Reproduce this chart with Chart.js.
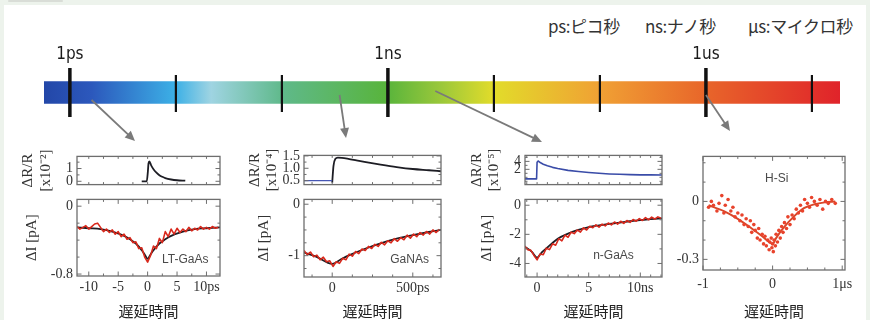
<!DOCTYPE html>
<html>
<head>
<meta charset="utf-8">
<script src="https://cdn.jsdelivr.net/npm/chart.js@4.4.0/dist/chart.umd.min.js"></script>
<style>
  body { margin: 0; width: 870px; height: 320px; background: #edf3ec; overflow: hidden; position: relative; }
  #sheet { position: absolute; left: 4px; top: 5px; width: 862px; height: 315px; background: #fff; }
  #tab { position: absolute; left: 8px; top: 0; width: 55px; height: 2px; background: #d9ddd7; border-radius: 2px; }
  .unit { position: absolute; top: 15px; font: 17px/22px 'Noto Sans CJK JP', sans-serif; color: #333; white-space: pre; letter-spacing: -0.4px; }
  canvas { position: absolute; }
</style>
</head>
<body>
<div id="sheet"></div>
<div id="tab"></div>
<div class="unit" style="left:548px">ps:ピコ秒</div>
<div class="unit" style="left:645px">ns:ナノ秒</div>
<div class="unit" style="left:748px">μs:マイクロ秒</div>
<canvas id="timeline"></canvas>
<canvas id="ltTop"></canvas><canvas id="ltBot"></canvas>
<canvas id="grTop"></canvas><canvas id="grBot"></canvas>
<canvas id="ngTop"></canvas><canvas id="ngBot"></canvas>
<canvas id="hs"></canvas>
<script>
// ---- timeline (seconds, log axis) ----
const timeTicks = [1e-12, 1e-11, 1e-10, 1e-9, 1e-8, 1e-7, 1e-6, 1e-5];
const timeTickLabels = ['1ps', '', '', '1ns', '', '', '1us', ''];
const timeRange = [5.7e-13, 1.84e-5];
// where each arrow leaves the time bar
const arrowFrom = [1.6e-12, 3.5e-10, 2.8e-9, 1.0e-6];

// ---- LT-GaAs (ps) ----
const ltDrX = [-1, -0.15, 0.05, 0.15, 0.3, 0.6, 1, 1.5, 2, 2.5, 3, 4, 5, 6.4];
const ltDrY = [0, 0, 0.8, 1.4, 1.55, 1.25, 0.95, 0.68, 0.48, 0.35, 0.25, 0.14, 0.08, 0.05];
const ltDataX = [-12, -11.5, -11, -10.5, -10, -9.5, -9, -8.5, -8, -7.5, -7, -6.5, -6, -5.5, -5, -4.5, -4, -3.5, -3, -2.5, -2, -1.5, -1, -0.5, 0,
  0.5, 1, 1.5, 2, 2.5, 3, 3.5, 4, 4.5, 5, 5.5, 6, 6.5, 7, 7.5, 8, 8.5, 9, 9.5, 10, 10.5, 11, 11.5, 12];
const ltDataY = [-0.24, -0.27, -0.25, -0.23, -0.27, -0.24, -0.21, -0.2, -0.25, -0.3, -0.27, -0.31, -0.28, -0.33, -0.3, -0.36, -0.33, -0.39, -0.37, -0.43, -0.42, -0.5, -0.49, -0.6, -0.66,
  -0.58, -0.47, -0.5, -0.38, -0.43, -0.3, -0.36, -0.27, -0.33, -0.26, -0.31, -0.27, -0.3, -0.25, -0.29, -0.26, -0.28, -0.24, -0.27, -0.25, -0.27, -0.24, -0.26, -0.25];
const ltFitX = [-12, -10, -8, -6, -4, -3, -2, -1, -0.5, 0, 0.5, 1, 2, 3, 4, 6, 8, 10, 12.3];
const ltFitY = [-0.25, -0.26, -0.27, -0.3, -0.35, -0.39, -0.44, -0.52, -0.57, -0.62, -0.57, -0.52, -0.44, -0.39, -0.35, -0.3, -0.27, -0.26, -0.25];

// ---- GaNAs (ps) ----
const grFlatX = [-175, 0];
const grFlatY = [0.5, 0.5];
const grDrX = [0, 8, 20, 35, 60, 100, 150, 200, 300, 400, 500, 600, 675];
const grDrY = [0.42, 1.1, 1.38, 1.43, 1.42, 1.38, 1.32, 1.26, 1.15, 1.05, 0.97, 0.92, 0.88];
const grDataX = [-175, -155, -135, -115, -95, -75, -55, -35, -15, 5, 25, 45, 65, 85, 105, 125, 145, 165, 185, 205, 225, 245,
  265, 285, 305, 325, 345, 365, 385, 405, 425, 445, 465, 485, 505, 525, 545, 565, 585, 605, 625, 645, 665];
const grDataY = [-0.9, -0.98, -0.93, -1.02, -0.99, -1.08, -1.03, -1.12, -1.1, -1.21, -1.12, -1.15, -1.05, -1.08, -0.97, -1.01, -0.92, -0.96, -0.87, -0.9, -0.82, -0.86,
  -0.78, -0.82, -0.74, -0.79, -0.71, -0.75, -0.67, -0.72, -0.65, -0.69, -0.6, -0.66, -0.58, -0.63, -0.55, -0.6, -0.53, -0.58, -0.5, -0.55, -0.49];
const grFitX = [-175, -100, 0, 50, 100, 200, 300, 400, 500, 600, 675];
const grFitY = [-0.94, -1.02, -1.16, -1.08, -1.0, -0.87, -0.76, -0.67, -0.6, -0.54, -0.5];

// ---- n-GaAs (ns) ----
const ngDrX = [-1.17, -0.05, 0, 0.1, 0.3, 0.6, 1, 1.5, 2, 3, 4, 5, 6, 7, 8, 9, 10, 11, 12.1];
const ngDrY = [-0.4, -0.4, 3.8, 4.1, 3.7, 3.3, 2.9, 2.5, 2.2, 1.75, 1.45, 1.2, 1.0, 0.85, 0.75, 0.68, 0.62, 0.6, 0.58];
const ngDataX = [-1.2, -0.9, -0.6, -0.3, 0, 0.3, 0.6, 0.9, 1.2, 1.5, 1.8, 2.1, 2.4, 2.7, 3.0, 3.3, 3.6, 3.9, 4.2, 4.5, 4.8, 5.1, 5.4,
  5.7, 6.0, 6.3, 6.6, 6.9, 7.2, 7.5, 7.8, 8.1, 8.4, 8.7, 9.0, 9.3, 9.6, 9.9, 10.2, 10.5, 10.8, 11.1, 11.4, 11.7, 12.0];
const ngDataY = [-2.8, -3.05, -3.1, -3.45, -3.75, -3.35, -3.4, -2.95, -3.05, -2.65, -2.75, -2.3, -2.45, -2.05, -2.2, -1.85, -1.95, -1.7, -1.85, -1.55, -1.7, -1.45, -1.55,
  -1.35, -1.5, -1.3, -1.42, -1.22, -1.35, -1.15, -1.3, -1.1, -1.25, -1.05, -1.18, -0.98, -1.1, -0.92, -1.05, -0.85, -1.0, -0.82, -0.95, -0.8, -0.9];
const ngFitX = [-1.2, -0.5, 0, 0.5, 1, 2, 3, 4, 5, 6, 7, 8, 9, 10, 11, 12.1];
const ngFitY = [-2.85, -3.2, -3.6, -3.2, -2.9, -2.3, -1.95, -1.7, -1.5, -1.38, -1.28, -1.2, -1.1, -1.02, -0.96, -0.9];

// ---- H-Si (us) ----
const hsX = [-0.92, -0.88, -0.85, -0.8, -0.77, -0.73, -0.7, -0.68, -0.64, -0.6, -0.57, -0.54, -0.5, -0.47, -0.44, -0.41, -0.38, -0.35, -0.32, -0.3,
  -0.27, -0.25, -0.22, -0.2, -0.18, -0.15, -0.13, -0.11, -0.09, -0.07, -0.05, -0.04, -0.02, -0.01, 0, 0.01, 0.02, 0.04, 0.05, 0.07,
  0.09, 0.11, 0.13, 0.15, 0.17, 0.2, 0.22, 0.25, 0.28, 0.31, 0.34, 0.37, 0.4, 0.43, 0.46, 0.5, 0.53, 0.56, 0.6, 0.64, 0.68, 0.72, 0.76, 0.8, 0.85, 0.9];
const hsY = [-0.03, 0.0, -0.02, -0.05, -0.01, 0.03, -0.06, -0.02, 0.01, -0.05, -0.03, -0.08, -0.06, -0.1, -0.07, -0.12, -0.09, -0.13, -0.1, -0.16,
  -0.12, -0.15, -0.19, -0.14, -0.2, -0.17, -0.22, -0.18, -0.23, -0.2, -0.25, -0.21, -0.19, -0.24, -0.22, -0.26, -0.2, -0.23, -0.17, -0.21,
  -0.15, -0.19, -0.13, -0.16, -0.11, -0.14, -0.08, -0.12, -0.07, -0.09, -0.04, -0.06, -0.02, -0.05, 0.01, -0.01, -0.03, 0.02, 0.0, -0.02, 0.01, -0.04, 0.0, -0.01, 0.01, -0.01];
const hsFitX = [-0.92, -0.7, -0.5, -0.3, -0.15, -0.05, 0, 0.05, 0.15, 0.3, 0.45, 0.6, 0.75, 0.9];
const hsFitY = [-0.02, -0.05, -0.09, -0.14, -0.18, -0.21, -0.22, -0.19, -0.14, -0.08, -0.035, -0.015, -0.005, 0.0];

const serif = "'Liberation Serif', 'Times New Roman', serif";
const pts = (xs, ys) => xs.map((x, i) => ({x: x, y: ys[i]}));

// box outline + inward ticks on all four sides, plus the sample name
const frame = {
  id: 'frame',
  afterDatasetsDraw(chart, args, o) {
    const {ctx, chartArea: a, scales: {x, y}} = chart;
    ctx.save();
    ctx.strokeStyle = '#6e6e6e';
    ctx.lineWidth = 1;
    ctx.beginPath();
    const tick = (scale, step, horiz) => {
      const k0 = Math.ceil((scale.min - 1e-9) / step);
      for (let k = k0; k * step <= scale.max + 1e-9; k++) {
        const v = k * step;
        const major = scale.ticks.some(t => Math.abs(t.value - v) < step / 10);
        const len = major ? 4.5 : 2.5;
        const p = scale.getPixelForValue(v);
        if (horiz) {
          ctx.moveTo(p, a.top); ctx.lineTo(p, a.top + len);
          ctx.moveTo(p, a.bottom); ctx.lineTo(p, a.bottom - len);
        } else {
          ctx.moveTo(a.left, p); ctx.lineTo(a.left + len, p);
          ctx.moveTo(a.right, p); ctx.lineTo(a.right - len, p);
        }
      }
    };
    tick(x, o.xStep, true);
    tick(y, o.yStep, false);
    ctx.stroke();
    ctx.lineWidth = 1.3;
    ctx.strokeRect(a.left, a.top, a.right - a.left, a.bottom - a.top);
    if (o.label) {
      ctx.font = "12px 'Liberation Sans', Arial, sans-serif";
      ctx.fillStyle = '#4a4a4a';
      ctx.textAlign = 'center';
      ctx.textBaseline = 'middle';
      ctx.fillText(o.label[0], x.getPixelForValue(o.label[1]), y.getPixelForValue(o.label[2]));
    }
    ctx.restore();
  }
};

function plot(id, box, o) {
  const [l, t, r, b] = box;
  const pt = 10, pr = 22;
  const c = document.getElementById(id);
  const W = r - l + o.yw + pr, H = b - t + pt + o.xh;
  c.style.left = (l - o.yw) + 'px';
  c.style.top = (t - pt) + 'px';
  c.style.width = W + 'px';
  c.style.height = H + 'px';
  c.width = W; c.height = H;
  return new Chart(c, {
    type: 'line',
    data: {datasets: o.sets},
    options: {
      responsive: false,
      animation: false,
      layout: {padding: {top: pt, right: pr, left: 0, bottom: 0}},
      elements: {point: {radius: 0}, line: {borderJoinStyle: 'round'}},
      plugins: {legend: {display: false}, tooltip: {enabled: false}, frame: o.frame},
      scales: {
        x: {
          type: 'linear', min: o.xr[0], max: o.xr[1],
          afterBuildTicks: s => { s.ticks = o.xt.map(v => ({value: v})); },
          afterFit: s => { s.height = o.xh; },
          grid: {display: false, drawTicks: false},
          border: {display: false},
          ticks: {display: o.xh > 0, autoSkip: false, maxRotation: 0, padding: o.xpad || 3,
            color: '#333', font: {family: serif, size: 14}, callback: (v, i) => o.xl[i]},
          title: {display: o.xh > 0, text: '遅延時間', color: '#222',
            font: {family: "'Noto Sans CJK JP', sans-serif", size: 15, lineHeight: 1.2}, padding: {top: 0, bottom: 0}}
        },
        y: {
          type: 'linear', min: o.yr[0], max: o.yr[1],
          afterBuildTicks: s => { s.ticks = o.yt.map(v => ({value: v})); },
          afterFit: s => { s.width = o.yw; },
          grid: {display: false, drawTicks: false},
          border: {display: false},
          ticks: {autoSkip: false, padding: 4, color: '#333', font: {family: serif, size: 14},
            callback: (v, i) => o.yl[i]},
          title: {display: !!o.yTitle, text: o.yTitle, color: '#333',
            font: {family: serif, size: 15, lineHeight: o.tlh || 1.2}, padding: {top: o.tpad || 0, bottom: 0}}
        }
      }
    },
    plugins: [frame]
  });
}

const black = (data) => ({data, borderColor: '#1d1d24', borderWidth: 1.8, cubicInterpolationMode: 'monotone'});
const red = (data) => ({data, borderColor: '#d8281c', borderWidth: 1.6, tension: 0});

// LT-GaAs
plot('ltTop', [77, 154, 220, 197], {
  yw: 59, xh: 0, xr: [-12, 12.3], xt: [-10, -5, 0, 5, 10], xl: [],
  yr: [-0.26, 1.95], yt: [0, 1], yl: ['0', '1'], yTitle: ['ΔR/R', '[x10⁻²]'], tpad: 1,
  sets: [black(pts(ltDrX, ltDrY))],
  frame: {xStep: 2.5, yStep: 0.5}
});
plot('ltBot', [77, 197, 220, 276], {
  yw: 59, xh: 44, xr: [-12, 12.3], xt: [-10, -5, 0, 5, 10], xl: ['-10', '-5', '0', '5', '10ps'],
  yr: [-0.823, 0.08], yt: [0, -0.8], yl: ['0', '-0.8'], yTitle: 'ΔI [pA]', tpad: 5,
  sets: [red(pts(ltDataX, ltDataY)), black(pts(ltFitX, ltFitY))],
  frame: {xStep: 2.5, yStep: 0.2, label: ['LT-GaAs', 6.4, -0.63]}
});

// GaNAs
plot('grTop', [304, 153, 441, 197], {
  yw: 57, xh: 0, xr: [-175, 675], xt: [0, 500], xl: [],
  yr: [0.34, 1.52], yt: [0.5, 1.0, 1.5], yl: ['0.5', '1.0', '1.5'], yTitle: ['ΔR/R', '[x10⁻⁴]'], tpad: 0, tlh: 1.1,
  sets: [{data: pts(grFlatX, grFlatY), borderColor: '#4656b4', borderWidth: 1.3},
         black(pts(grDrX, grDrY))],
  frame: {xStep: 125, yStep: 0.25}
});
plot('grBot', [304, 197, 441, 277], {
  yw: 57, xh: 43, xr: [-175, 675], xt: [0, 500], xl: ['0', '500ps'],
  yr: [-1.415, 0.094], yt: [0, -1], yl: ['0', '-1'], yTitle: 'ΔI [pA]', tpad: 8,
  sets: [red(pts(grDataX, grDataY)), black(pts(grFitX, grFitY))],
  frame: {xStep: 125, yStep: 0.25, label: ['GaNAs', 480, -1.08]}
});

// n-GaAs
plot('ngTop', [525, 153, 662, 197], {
  yw: 56, xh: 0, xr: [-1.17, 12.1], xt: [0, 5, 10], xl: [],
  yr: [-1.83, 5.5], yt: [2, 4], yl: ['2', '4'], yTitle: ['ΔR/R', '[x10⁻⁵]'], tpad: 0, tlh: 1.1,
  sets: [{data: pts(ngDrX, ngDrY), borderColor: '#3a4ca8', borderWidth: 1.6}],
  frame: {xStep: 1, yStep: 1}
});
plot('ngBot', [525, 197, 662, 277], {
  yw: 56, xh: 43, xr: [-1.17, 12.1], xt: [0, 5, 10], xl: ['0', '5', '10ns'],
  yr: [-4.93, 0.4], yt: [0, -2, -4], yl: ['0', '-2', '-4'], yTitle: 'ΔI [pA]', tpad: 9,
  sets: [red(pts(ngDataX, ngDataY)), black(pts(ngFitX, ngFitY))],
  frame: {xStep: 1, yStep: 1, label: ['n-GaAs', 7.4, -3.5]}
});

// H-Si
plot('hs', [703, 154, 845, 270], {
  yw: 40, xh: 50, xpad: 6, xr: [-1, 1.04], xt: [-1, 0, 1], xl: ['-1', '0', '1μs'],
  yr: [-0.355, 0.233], yt: [0, -0.3], yl: ['0', '-0.3'],
  sets: [{data: pts(hsX, hsY), showLine: false, pointRadius: 1.8, pointBackgroundColor: '#e8432c', pointBorderWidth: 0},
         {data: pts(hsFitX, hsFitY), borderColor: '#d9482a', borderWidth: 2, cubicInterpolationMode: 'monotone'}],
  frame: {xStep: 0.25, yStep: 0.1, label: ['H-Si', 0.06, 0.117]}
});

// ---- time bar ----
const barStops = [[0, '#2347a8'], [0.06, '#2c58bc'], [0.165, '#3cb0e6'], [0.21, '#9fd4e2'], [0.3, '#5fb98a'],
  [0.43, '#58b43c'], [0.5, '#9cc83a'], [0.565, '#e2dc2a'], [0.7, '#f0a034'], [0.83, '#e8662a'], [1, '#e0232a']];

const barDecor = {
  id: 'barDecor',
  afterDatasetsDraw(chart) {
    const {ctx, chartArea: a, scales: {x}} = chart;
    ctx.save();
    ctx.strokeStyle = '#111';
    timeTicks.forEach((v, i) => {
      const p = x.getPixelForValue(v);
      const major = timeTickLabels[i] !== '';
      ctx.lineWidth = major ? 3.5 : 2.2;
      ctx.beginPath();
      ctx.moveTo(p, major ? a.top : a.top + 7);
      ctx.lineTo(p, major ? a.bottom : a.bottom - 5);
      ctx.stroke();
    });
    // arrows down to the panels
    const ends = [[100, 135, 141], [95, 346, 138], [91, 542, 142], [95, 730, 131]];
    ctx.strokeStyle = '#7a7a7a';
    ctx.fillStyle = '#7a7a7a';
    ctx.lineWidth = 1.8;
    arrowFrom.forEach((v, i) => {
      const [y0, x1, y1] = ends[i];
      const x0 = x.getPixelForValue(v);
      const ang = Math.atan2(y1 - y0, x1 - x0);
      ctx.beginPath();
      ctx.moveTo(x0, y0);
      ctx.lineTo(x1 - 6 * Math.cos(ang), y1 - 6 * Math.sin(ang));
      ctx.stroke();
      ctx.beginPath();
      ctx.moveTo(x1, y1);
      ctx.lineTo(x1 - 10 * Math.cos(ang) + 4.5 * Math.sin(ang), y1 - 10 * Math.sin(ang) - 4.5 * Math.cos(ang));
      ctx.lineTo(x1 - 10 * Math.cos(ang) - 4.5 * Math.sin(ang), y1 - 10 * Math.sin(ang) + 4.5 * Math.cos(ang));
      ctx.closePath();
      ctx.fill();
    });
    ctx.restore();
  }
};

const tl = document.getElementById('timeline');
tl.style.left = '0px'; tl.style.top = '0px'; tl.style.width = '870px'; tl.style.height = '320px';
tl.width = 870; tl.height = 320;
new Chart(tl, {
  type: 'bar',
  data: {
    labels: [''],
    datasets: [{
      data: [timeRange],
      barThickness: 22,
      borderWidth: 0,
      backgroundColor: (c) => {
        const a = c.chart.chartArea;
        if (!a) return '#58b43c';
        const g = c.chart.ctx.createLinearGradient(a.left, 0, a.right, 0);
        barStops.forEach(s => g.addColorStop(s[0], s[1]));
        return g;
      }
    }]
  },
  options: {
    indexAxis: 'y',
    responsive: false,
    animation: false,
    layout: {padding: {left: 44, right: 30, top: 0, bottom: 203}},
    plugins: {legend: {display: false}, tooltip: {enabled: false}},
    scales: {
      x: {
        type: 'logarithmic', position: 'top', min: timeRange[0], max: timeRange[1],
        afterBuildTicks: s => { s.ticks = timeTicks.map(v => ({value: v})); },
        afterFit: s => { s.height = 68; },
        grid: {display: false, drawTicks: false},
        border: {display: false},
        ticks: {autoSkip: false, maxRotation: 0, padding: 3, color: '#1a1a1a',
          font: {family: "'Liberation Sans Narrow', 'DejaVu Sans Condensed', sans-serif", size: 17},
          callback: (v, i) => timeTickLabels[i]}
      },
      y: {display: false}
    }
  },
  plugins: [barDecor]
});
</script>
</body>
</html>
